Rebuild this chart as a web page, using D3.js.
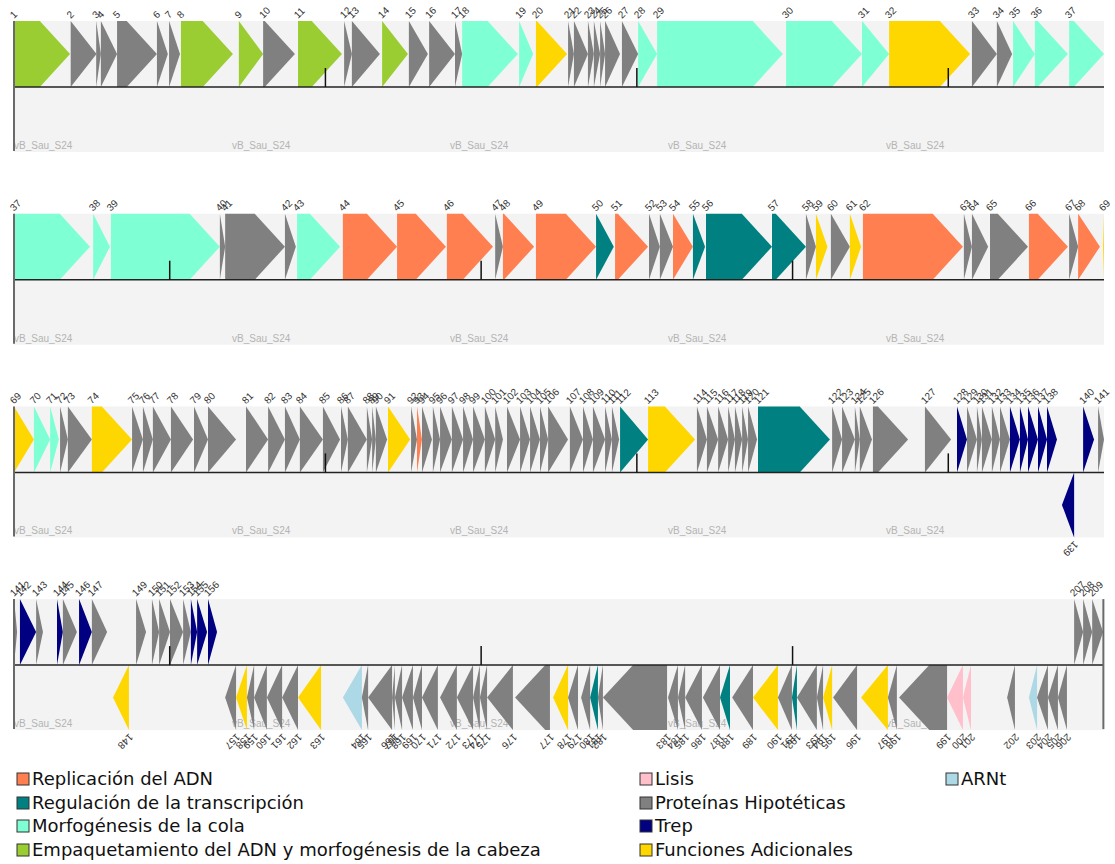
<!DOCTYPE html>
<html><head><meta charset="utf-8">
<script src="https://cdn.jsdelivr.net/npm/d3@7"></script>
<style>body{margin:0;background:#fff}</style>
</head><body>
<svg id="map" width="1115" height="864"></svg>
<script>
// Genome map of phage vB_Sau_S24, four tracks of 35 kb each
const genomeName = "vB_Sau_S24";
const genomeLength = 139.98;          // kb
const rowLength = 35;                 // kb per track
const scaleTicks = [10, 20, 30, 40, 50, 60, 70, 80, 90, 100, 110, 120, 130]; // kb
const nameMarks = [0, 7, 14, 21, 28]; // kb offsets inside each track

// functional categories
const categoryCodes = ["R", "T", "C", "H", "L", "P", "E", "F", "A"];
const categoryNames = [
  "Replicación del ADN",
  "Regulación de la transcripción",
  "Morfogénesis de la cola",
  "Empaquetamiento del ADN y morfogénesis de la cabeza",
  "Lisis",
  "Proteínas Hipotéticas",
  "Trep",
  "Funciones Adicionales",
  "ARNt"
];

// ORFs: [number, start kb, end kb, strand, category]
const genes = [
  [1,0.00,1.80,"+","H"],[2,1.82,2.65,"+","P"],[3,2.64,2.79,"+","P"],[4,2.79,3.31,"+","P"],
  [5,3.31,4.59,"+","P"],[6,4.59,4.94,"+","P"],[7,4.98,5.33,"+","P"],[8,5.36,7.03,"+","H"],
  [9,7.22,8.00,"+","H"],[10,8.00,9.02,"+","P"],[11,9.12,10.53,"+","H"],[12,10.60,10.85,"+","P"],
  [13,10.85,11.75,"+","P"],[14,11.82,12.65,"+","H"],[15,12.68,13.29,"+","P"],[16,13.33,14.16,"+","P"],
  [17,14.16,14.39,"+","P"],[18,14.39,16.18,"+","C"],[19,16.22,16.67,"+","C"],[20,16.76,17.76,"+","F"],
  [21,17.79,17.98,"+","P"],[22,17.98,18.43,"+","P"],[23,18.43,18.62,"+","P"],[24,18.62,18.82,"+","P"],
  [25,18.82,18.98,"+","P"],[26,18.98,19.46,"+","P"],[27,19.52,20.04,"+","P"],[28,20.04,20.65,"+","C"],
  [29,20.65,24.69,"+","C"],[30,24.79,27.23,"+","C"],[31,27.23,28.10,"+","C"],[32,28.10,30.70,"+","F"],
  [33,30.76,31.56,"+","P"],[34,31.56,32.05,"+","P"],[35,32.08,32.78,"+","C"],[36,32.78,33.84,"+","C"],
  [37,33.88,37.44,"+","C"],[38,37.54,38.08,"+","C"],[39,38.11,41.61,"+","C"],[40,41.61,41.78,"+","P"],
  [41,41.78,43.70,"+","P"],[42,43.70,44.05,"+","P"],[43,44.09,45.47,"+","C"],[44,45.56,47.30,"+","R"],
  [45,47.30,48.87,"+","R"],[46,48.90,50.38,"+","R"],[47,50.45,50.70,"+","P"],[48,50.70,51.70,"+","R"],
  [49,51.76,53.69,"+","R"],[50,53.69,54.26,"+","T"],[51,54.30,55.36,"+","R"],[52,55.39,55.74,"+","P"],
  [53,55.74,56.16,"+","P"],[54,56.16,56.80,"+","R"],[55,56.80,57.19,"+","T"],[56,57.22,59.34,"+","T"],
  [57,59.34,60.43,"+","T"],[58,60.43,60.75,"+","P"],[59,60.75,61.12,"+","F"],[60,61.23,61.84,"+","P"],
  [61,61.84,62.20,"+","F"],[62,62.26,65.47,"+","R"],[63,65.50,65.76,"+","P"],[64,65.76,66.28,"+","P"],
  [65,66.34,67.56,"+","P"],[66,67.59,68.84,"+","R"],[67,68.88,69.17,"+","P"],[68,69.17,69.87,"+","R"],
  [69,69.97,70.64,"+","F"],[70,70.64,71.16,"+","C"],[71,71.16,71.44,"+","C"],[72,71.48,71.73,"+","P"],
  [73,71.73,72.50,"+","P"],[74,72.50,73.79,"+","F"],[75,73.79,74.14,"+","P"],[76,74.14,74.46,"+","P"],
  [77,74.46,75.04,"+","P"],[78,75.04,75.75,"+","P"],[79,75.78,76.23,"+","P"],[80,76.23,77.13,"+","P"],
  [81,77.45,78.16,"+","P"],[82,78.16,78.70,"+","P"],[83,78.70,79.18,"+","P"],[84,79.18,79.92,"+","P"],
  [85,79.92,80.47,"+","P"],[86,80.50,80.72,"+","P"],[87,80.72,81.33,"+","P"],[88,81.33,81.50,"+","P"],
  [89,81.50,81.62,"+","P"],[90,81.62,81.98,"+","P"],[91,82.01,82.72,"+","F"],[92,82.75,82.94,"+","P"],
  [93,82.94,83.10,"+","R"],[94,83.10,83.42,"+","P"],[95,83.45,83.68,"+","P"],[96,83.68,84.06,"+","P"],
  [97,84.06,84.42,"+","P"],[98,84.42,84.74,"+","P"],[99,84.74,85.12,"+","P"],[100,85.12,85.45,"+","P"],
  [101,85.45,85.70,"+","P"],[102,85.83,86.25,"+","P"],[103,86.25,86.57,"+","P"],[104,86.57,86.89,"+","P"],
  [105,86.89,87.15,"+","P"],[106,87.15,87.79,"+","P"],[107,87.85,88.27,"+","P"],[108,88.27,88.59,"+","P"],
  [109,88.59,88.98,"+","P"],[110,88.98,89.20,"+","P"],[111,89.20,89.43,"+","P"],[112,89.46,90.36,"+","T"],
  [113,90.36,91.87,"+","F"],[114,91.93,92.25,"+","P"],[115,92.25,92.61,"+","P"],[116,92.61,92.93,"+","P"],
  [117,92.93,93.15,"+","P"],[118,93.15,93.38,"+","P"],[119,93.38,93.57,"+","P"],[120,93.57,93.86,"+","P"],
  [121,93.89,96.20,"+","T"],[122,96.27,96.59,"+","P"],[123,96.59,97.00,"+","P"],[124,97.00,97.16,"+","P"],
  [125,97.16,97.55,"+","P"],[126,97.58,98.71,"+","P"],[127,99.25,100.09,"+","P"],[128,100.28,100.60,"+","E"],
  [129,100.60,100.92,"+","P"],[130,100.92,101.08,"+","P"],[131,101.08,101.40,"+","P"],[132,101.40,101.66,"+","P"],
  [133,101.66,101.98,"+","P"],[134,101.98,102.30,"+","E"],[135,102.30,102.56,"+","E"],[136,102.56,102.88,"+","E"],
  [137,102.88,103.17,"+","E"],[138,103.17,103.49,"+","E"],[139,103.65,104.04,"-","E"],[140,104.33,104.68,"+","E"],
  [141,104.81,105.10,"+","P"],[142,105.19,105.71,"+","E"],[143,105.71,105.93,"+","P"],[144,106.38,106.57,"+","E"],
  [145,106.57,107.02,"+","P"],[146,107.09,107.50,"+","E"],[147,107.50,107.99,"+","P"],[148,108.18,108.69,"-","F"],
  [149,108.92,109.24,"+","P"],[150,109.43,109.66,"+","P"],[151,109.66,110.01,"+","P"],[152,110.01,110.43,"+","P"],
  [153,110.43,110.68,"+","P"],[154,110.68,110.88,"+","E"],[155,110.88,111.20,"+","E"],[156,111.23,111.52,"+","E"],
  [157,111.78,112.13,"-","P"],[158,112.13,112.48,"-","F"],[159,112.48,112.71,"-","P"],[160,112.71,113.12,"-","P"],
  [161,113.12,113.61,"-","P"],[162,113.61,114.12,"-","P"],[163,114.12,114.86,"-","F"],[164,115.56,116.17,"-","A"],
  [165,116.17,116.37,"-","P"],[166,116.37,117.14,"-","P"],[167,117.14,117.23,"-","P"],[168,117.23,117.46,"-","P"],
  [169,117.46,117.81,"-","P"],[170,117.81,118.10,"-","P"],[171,118.10,118.61,"-","P"],[172,118.68,119.22,"-","P"],
  [173,119.22,119.74,"-","P"],[174,119.74,119.96,"-","P"],[175,119.96,120.19,"-","P"],[176,120.19,121.02,"-","P"],
  [177,121.09,122.21,"-","P"],[178,122.31,122.79,"-","F"],[179,122.79,123.11,"-","P"],[180,123.21,123.50,"-","P"],
  [181,123.50,123.75,"-","T"],[182,123.75,123.91,"-","P"],[183,123.91,125.97,"-","P"],[184,126.00,126.32,"-","P"],
  [185,126.32,126.55,"-","P"],[186,126.55,127.09,"-","P"],[187,127.12,127.67,"-","P"],[188,127.67,127.99,"-","T"],
  [189,128.06,128.73,"-","P"],[190,128.73,129.53,"-","F"],[191,129.53,129.98,"-","P"],[192,129.98,130.14,"-","T"],
  [193,130.14,130.78,"-","P"],[194,130.78,130.98,"-","P"],[195,130.98,131.27,"-","F"],[196,131.30,132.07,"-","P"],
  [197,132.20,133.06,"-","F"],[198,133.06,133.35,"-","P"],[199,133.42,134.96,"-","P"],[200,134.96,135.47,"-","L"],
  [201,135.47,135.73,"-","L"],[202,136.89,137.14,"-","P"],[203,137.59,137.85,"-","A"],[204,137.85,138.20,"-","P"],
  [205,138.20,138.52,"-","P"],[206,138.52,138.81,"-","P"],[207,139.04,139.33,"+","P"],[208,139.33,139.62,"+","P"],
  [209,139.62,139.97,"+","P"]
];

// ---- styling ----
const palette = {
  R: "#ff7f50", T: "#008080", C: "#7fffd4", H: "#9acd32", L: "#ffc0cb",
  P: "#808080", E: "#000080", F: "#ffd700", A: "#add8e6"
};
const color = d3.scaleOrdinal().domain(categoryCodes).range(categoryCodes.map(c => palette[c]));

const svg = d3.select("#map");
const trackLeft = 14, trackRight = 1104;
const firstTop = 21, rowPitch = 192.7, halfH = 66;
const headKb = 0.97;
const nRows = Math.ceil(genomeLength / rowLength);

for (let r = 0; r < nRows; r++) {
  const r0 = r * rowLength, r1 = r0 + rowLength;
  const x = d3.scaleLinear().domain([r0, r1]).range([trackLeft, trackRight]);
  const top = firstTop + r * rowPitch;
  const axisY = top + halfH;
  const bottom = axisY + halfH - 1;
  const g = svg.append("g");

  // strand backgrounds
  g.append("rect").attr("x", trackLeft).attr("y", top).attr("width", trackRight - trackLeft)
    .attr("height", bottom - top).attr("fill", "#f3f3f3");

  // genome name marks
  g.selectAll("text.name").data(nameMarks).enter().append("text")
    .attr("x", d => x(r0 + d)).attr("y", bottom - 3)
    .attr("font-family", "Liberation Sans, Arial, sans-serif").attr("font-size", 10)
    .attr("fill", "#b4b4b4").text(genomeName);

  // genes overlapping this track
  const pieces = genes.filter(d => d[2] > r0 && d[1] < r1).map(d => ({
    id: d[0], s: Math.max(d[1], r0), e: Math.min(d[2], r1), strand: d[3], cat: d[4]
  }));
  const headPx = x(r0 + headKb) - x(r0);

  g.selectAll("path.gene").data(pieces).enter().append("path")
    .attr("d", d => {
      const a = x(d.s), b = x(d.e), h = Math.min(headPx, b - a);
      if (d.strand === "+") {
        const y0 = top, y1 = axisY, ym = (y0 + y1) / 2;
        return `M${a},${y0}L${b - h},${y0}L${b},${ym}L${b - h},${y1}L${a},${y1}Z`;
      } else {
        const y0 = axisY, y1 = bottom, ym = (y0 + y1) / 2;
        return `M${b},${y0}L${a + h},${y0}L${a},${ym}L${a + h},${y1}L${b},${y1}Z`;
      }
    })
    .attr("fill", d => color(d.cat));

  // axis line
  g.append("line").attr("x1", trackLeft).attr("x2", x(Math.min(r1, genomeLength)))
    .attr("y1", axisY).attr("y2", axisY).attr("stroke", "#222").attr("stroke-width", 1.5);

  // 10 kb scale ticks
  g.selectAll("line.tick").data(scaleTicks.filter(t => t > r0 && t < r1)).enter().append("line")
    .attr("x1", d => x(d)).attr("x2", d => x(d)).attr("y1", axisY).attr("y2", axisY - 19)
    .attr("stroke", "#111").attr("stroke-width", 1.5);

  // track start / genome end markers
  const ends = [r0];
  if (genomeLength <= r1) ends.push(genomeLength);
  g.selectAll("line.end").data(ends).enter().append("line")
    .attr("x1", d => x(d)).attr("x2", d => x(d)).attr("y1", top).attr("y2", bottom - 1)
    .attr("stroke", "#6a6a6a").attr("stroke-width", 2);

  // gene numbers
  g.selectAll("text.lab").data(pieces).enter().append("text")
    .attr("transform", d => d.strand === "+"
      ? `translate(${x(d.s)},${top - 2}) rotate(-45)`
      : `translate(${x(d.e)},${bottom + 3}) rotate(135)`)
    .attr("font-family", "Liberation Sans, Arial, sans-serif").attr("font-size", 10)
    .attr("fill", "#333").text(d => d.id);
}

// legend
const legendOrder = [["R", "T", "C", "H"], ["L", "P", "E", "F"], ["A"]];
const legendX = [17, 640, 946];
const legendY = [773, 797, 820, 844];
legendOrder.forEach((col, ci) => {
  const lg = svg.append("g").selectAll("g").data(col).enter().append("g")
    .attr("transform", (d, i) => `translate(${legendX[ci]},${legendY[i]})`);
  lg.append("rect").attr("width", 12).attr("height", 12)
    .attr("fill", d => color(d)).attr("stroke", "#333").attr("stroke-width", 1);
  lg.append("text").attr("x", 15).attr("y", 12)
    .attr("font-family", "DejaVu Sans, Verdana, sans-serif").attr("font-size", 18)
    .attr("fill", "#111").text(d => categoryNames[categoryCodes.indexOf(d)]);
});
</script>
</body></html>
